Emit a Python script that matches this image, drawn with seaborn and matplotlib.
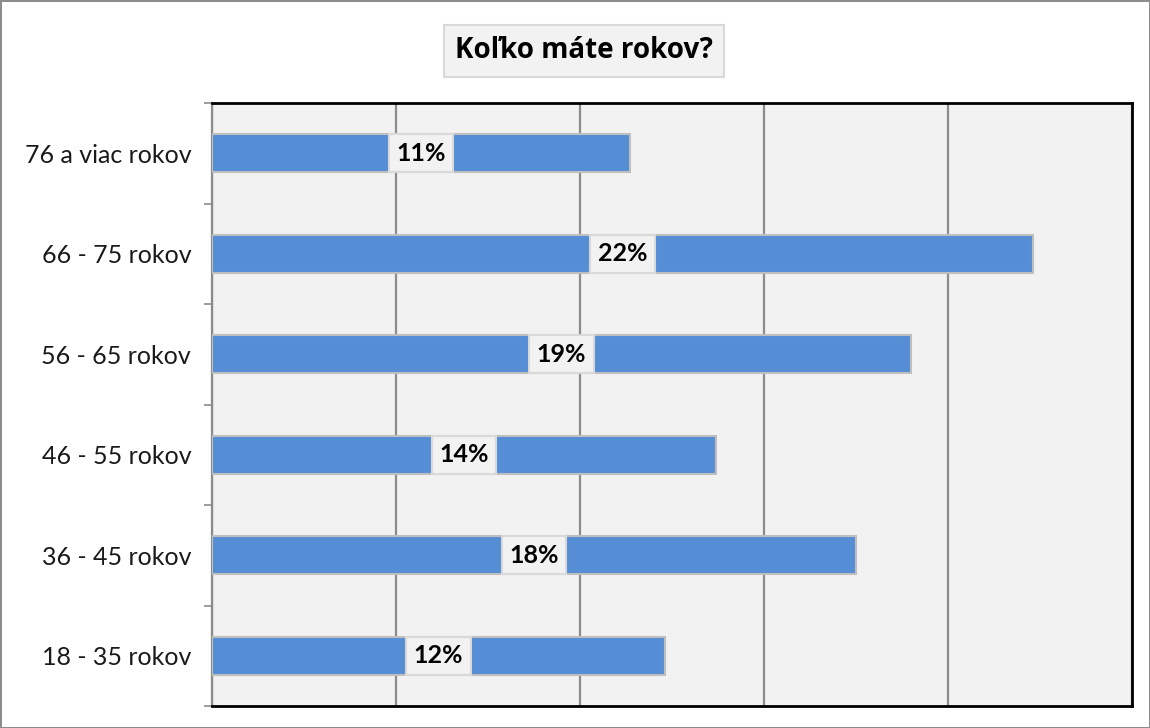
import numpy as np
import pandas as pd
import matplotlib.pyplot as plt
import seaborn as sns

# data (top to bottom)
categories = ["76 a viac rokov", "66 - 75 rokov", "56 - 65 rokov",
              "46 - 55 rokov", "36 - 45 rokov", "18 - 35 rokov"]
shares = [0.1136, 0.223, 0.190, 0.137, 0.175, 0.123]

df = pd.DataFrame({"vek": categories, "podiel": shares})

sns.set_theme(style="white")
plt.rcParams["font.family"] = ["Lato", "DejaVu Sans"]

fig = plt.figure(figsize=(11.5, 7.28), dpi=100, edgecolor="#8c8c8c", linewidth=2)
ax = fig.add_axes([212 / 1150, 1 - 706 / 728, 920 / 1150, 603 / 728])
ax.set_facecolor("#f2f2f2")

sns.barplot(data=df, x="podiel", y="vek", orient="h", color="#558ed5",
            saturation=1, width=0.38, edgecolor="#bfbfbf", linewidth=1.5,
            ax=ax, zorder=3)

ax.set_xlim(0, 0.25)
ax.set_ylim(len(categories) - 0.5, -0.5)
ax.set_xticks(np.arange(0, 0.26, 0.05))
ax.set_xticklabels([])
ax.tick_params(axis="x", length=0)
ax.grid(axis="x", color="#8c8c8c", linewidth=1.6, zorder=0)
ax.set_axisbelow(True)

# ticks at category boundaries, labels in the middle
ax.set_yticks(np.arange(-0.5, len(categories), 1))
ax.set_yticklabels([])
ax.set_yticks(np.arange(len(categories)), minor=True)
ax.set_yticklabels(categories, minor=True, fontsize=18, color="#1a1a1a")
ax.tick_params(axis="y", which="major", length=6, width=1.2, color="#8c8c8c", direction="out", left=True)
ax.tick_params(axis="y", which="minor", length=0, pad=15)
ax.set_xlabel("")
ax.set_ylabel("")

for side in ["top", "right", "bottom"]:
    ax.spines[side].set_color("black")
    ax.spines[side].set_linewidth(2)
ax.spines["left"].set_color("#8c8c8c")
ax.spines["left"].set_linewidth(1.6)

for i, v in enumerate(shares):
    ax.text(v / 2, i, f"{v:.0%}", ha="center", va="center", fontsize=18,
            fontweight="bold", color="black", zorder=5,
            bbox=dict(boxstyle="square,pad=0.3", facecolor="#f2f2f2",
                      edgecolor="#d9d9d9", linewidth=1.5))

# Open Sans shows the caron of "ľ" clearly
fig.text(0.508, 1 - 51 / 728, "Koľko máte rokov?", ha="center", va="center",
         fontsize=20, fontweight="bold", color="black",
         family=["Open Sans", "DejaVu Sans"],
         bbox=dict(boxstyle="square,pad=0.4", facecolor="#f2f2f2",
                   edgecolor="#d9d9d9", linewidth=1.5))

fig.savefig("out.png", dpi=100, facecolor="white", edgecolor=fig.get_edgecolor())
